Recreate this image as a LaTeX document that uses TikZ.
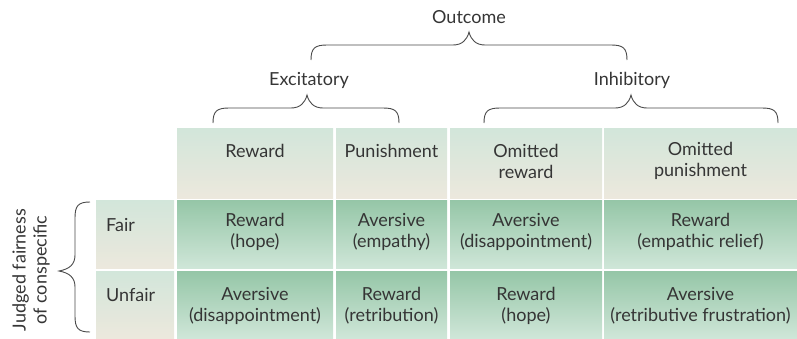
\documentclass[tikz,border=0pt]{standalone}
\usepackage{fontspec}
\setmainfont{Lato}
\definecolor{txt}{HTML}{353535}
\definecolor{brc}{HTML}{4A4A4A}
\definecolor{htop}{HTML}{D2E6DA}
\definecolor{hbot}{HTML}{ECE8DD}
\definecolor{btop}{HTML}{95C6A7}
\definecolor{bbot}{HTML}{CFE6D8}
\begin{document}
\begin{tikzpicture}[x=1pt,y=-1pt,
  hcell/.style={rectangle,inner sep=0pt,draw=none,top color=htop,bottom color=hbot},
  bcell/.style={rectangle,inner sep=0pt,draw=none,top color=btop,bottom color=bbot},
  lbl/.style={text=txt,align=center,inner sep=0pt,font=\fontsize{18}{21}\selectfont},
  bracepath/.style={draw=brc,line width=0.9pt}]
\useasboundingbox (0,0) rectangle (797,338);
% header cells
\node[hcell,minimum width=156pt,minimum height=70pt] (hR) at (255,163) {};
\node[hcell,minimum width=111pt,minimum height=70pt] (hP) at (391.5,163) {};
\node[hcell,minimum width=152pt,minimum height=70pt] (hOR) at (526,163) {};
\node[hcell,minimum width=193pt,minimum height=70pt] (hOP) at (700.5,163) {};
% row label cells
\node[hcell,minimum width=78pt,minimum height=68pt] (lF) at (135,234) {};
\node[hcell,minimum width=78pt,minimum height=67pt] (lU) at (135,304.5) {};
% body cells
\node[bcell,minimum width=156pt,minimum height=68pt] (fR) at (255,234) {};
\node[bcell,minimum width=111pt,minimum height=68pt] (fP) at (391.5,234) {};
\node[bcell,minimum width=152pt,minimum height=68pt] (fOR) at (526,234) {};
\node[bcell,minimum width=193pt,minimum height=68pt] (fOP) at (700.5,234) {};
\node[bcell,minimum width=156pt,minimum height=67pt] (uR) at (255,304.5) {};
\node[bcell,minimum width=111pt,minimum height=67pt] (uP) at (391.5,304.5) {};
\node[bcell,minimum width=152pt,minimum height=67pt] (uOR) at (526,304.5) {};
\node[bcell,minimum width=193pt,minimum height=67pt] (uOP) at (700.5,304.5) {};
% header texts
\node[lbl,anchor=center] (thR) at (255,151) {Reward};
\node[lbl,anchor=center] (thP) at (391.5,151) {Punishment};
\node[lbl,anchor=center] (thOR) at (526,161) {Omitted\\reward};
\node[lbl,anchor=center] (thOP) at (700.5,161) {Omitted\\punishment};
% row labels
\node[lbl,anchor=west] (tF) at (106,225) {Fair};
\node[lbl,anchor=west] (tU) at (106,295) {Unfair};
% body texts
\node[lbl] (tfR) at (255,232) {Reward\\(hope)};
\node[lbl] (tfP) at (391.5,232) {Aversive\\(empathy)};
\node[lbl] (tfOR) at (526,232) {Aversive\\(disappointment)};
\node[lbl] (tfOP) at (700.5,232) {Reward\\(empathic relief)};
\node[lbl] (tuR) at (255,306) {Aversive\\(disappointment)};
\node[lbl] (tuP) at (391.5,306) {Reward\\(retribution)};
\node[lbl] (tuOR) at (526,306) {Reward\\(hope)};
\node[lbl] (tuOP) at (700.5,306) {Aversive\\(retributive frustration)};
% top labels
\node[lbl] (tOut) at (469,17) {Outcome};
\node[lbl] (tExc) at (309,80) {Excitatory};
\node[lbl] (tInh) at (632,80) {Inhibitory};
% side label
\node[lbl,rotate=90] (tSide) at (31,270) {Judged fairness\\of conspecific};
% braces
\draw[bracepath] (311,60) .. controls (311,48) and (315,45) .. (327,45) -- (453,45)
  .. controls (462,45) and (467,40) .. (469,32)
  .. controls (471,40) and (476,45) .. (485,45) -- (611,45)
  .. controls (623,45) and (627,48) .. (627,60);
\draw[bracepath] (213,123) .. controls (213,111) and (217,108) .. (229,108) -- (291,108)
  .. controls (300,108) and (305,103) .. (307,95)
  .. controls (309,103) and (314,108) .. (323,108) -- (383,108)
  .. controls (395,108) and (399,111) .. (399,123);
\draw[bracepath] (484,123) .. controls (484,111) and (488,108) .. (500,108) -- (615,108)
  .. controls (624,108) and (629,103) .. (631,95)
  .. controls (633,103) and (638,108) .. (647,108) -- (762,108)
  .. controls (774,108) and (778,111) .. (778,123);
\draw[bracepath] (90,202) .. controls (78,202) and (75,206) .. (75,218) -- (75,255)
  .. controls (75,264) and (70,269) .. (59,271)
  .. controls (70,273) and (75,278) .. (75,287) -- (75,316)
  .. controls (75,328) and (78,332) .. (90,332);
\end{tikzpicture}
\end{document}
